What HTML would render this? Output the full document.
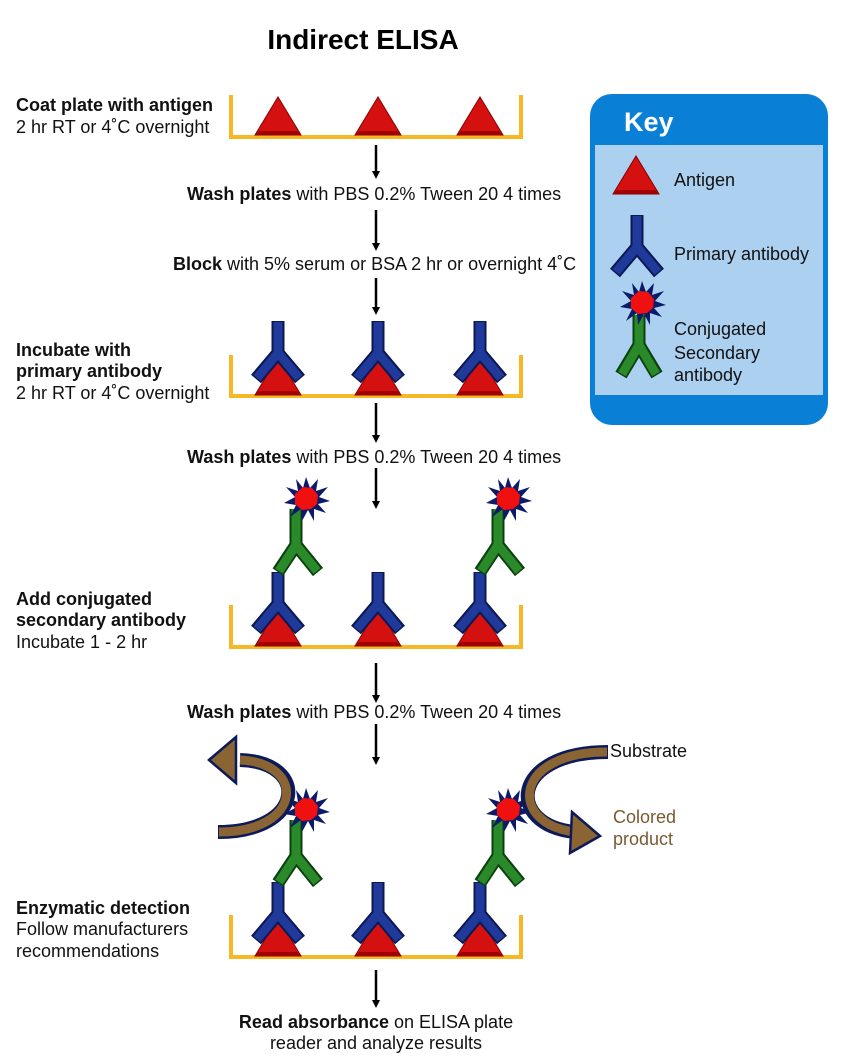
<!DOCTYPE html>
<html><head><meta charset="utf-8"><style>
body{margin:0;background:#fff;}
svg{display:block;font-family:"Liberation Sans",Arial,sans-serif;}
</style></head><body>
<svg width="850" height="1063" viewBox="0 0 850 1063" xmlns="http://www.w3.org/2000/svg">
<defs>
 <g id="ag"><polygon points="-23,0 0,-38 23,0" fill="#d41010" stroke="#8a0000" stroke-width="1"/><polygon points="-23,0 23,0 19,-4 -19,-4" fill="#a00000"/></g>
 <g id="pab">
  <g stroke="#0c1850" stroke-width="13" fill="none"><line x1="0" y1="0" x2="0" y2="34"/><line x1="0" y1="32" x2="-22" y2="58"/><line x1="0" y1="32" x2="22" y2="58"/></g>
  <g stroke="#1f3a9a" stroke-width="9" fill="none"><line x1="0" y1="1" x2="0" y2="34"/><line x1="0" y1="32" x2="-21" y2="57"/><line x1="0" y1="32" x2="21" y2="57"/></g>
 </g>
 <g id="star"><polygon points="0,-22 4,-11 12,-20 10,-8 22,-12 13,-2 24,2 12,5 20,14 8,10 8,22 2,11 -4,22 -5,10 -16,18 -10,6 -22,4 -11,-2 -20,-12 -8,-8 -10,-20 -3,-11" fill="#0c1a6a"/><polygon points="-3,-12 6,-11 12,-4 11,5 5,10 -4,11 -11,5 -11,-5" fill="#f01010"/></g>
 <g id="sab">
  <g stroke="#0c4010" stroke-width="13" fill="none"><line x1="0" y1="-36" x2="0" y2="2"/><line x1="0" y1="0" x2="-18" y2="27"/><line x1="0" y1="0" x2="22" y2="27"/></g>
  <g stroke="#2a8a2a" stroke-width="9" fill="none"><line x1="0" y1="-36" x2="0" y2="2"/><line x1="0" y1="0" x2="-17" y2="26"/><line x1="0" y1="0" x2="21" y2="26"/></g>
  <use href="#star" x="10" y="-46"/>
 </g>
 <marker id="ah" markerWidth="8" markerHeight="8" refX="5" refY="4" orient="auto" markerUnits="userSpaceOnUse"><path d="M0,0 L8,4 L0,8 Z" fill="#000"/></marker>
</defs>

<text x="363" y="49" font-size="28" font-weight="bold" text-anchor="middle">Indirect ELISA</text>

<g fill="none" stroke="#f6b824" stroke-width="4">
 <path d="M231,95 V137 H521 V95"/>
 <path d="M231,355 V396 H521 V355"/>
 <path d="M231,605 V647 H521 V605"/>
 <path d="M231,915 V957 H521 V915"/>
</g>
<use href="#ag" x="278" y="135"/><use href="#ag" x="378" y="135"/><use href="#ag" x="480" y="135"/>
<use href="#ag" x="278" y="395"/><use href="#ag" x="378" y="395"/><use href="#ag" x="480" y="395"/>
<use href="#pab" x="278" y="321"/><use href="#pab" x="378" y="321"/><use href="#pab" x="480" y="321"/>
<use href="#ag" x="278" y="646"/><use href="#ag" x="378" y="646"/><use href="#ag" x="480" y="646"/>
<use href="#pab" x="278" y="572"/><use href="#pab" x="378" y="572"/><use href="#pab" x="480" y="572"/>
<use href="#sab" x="296" y="545"/><use href="#sab" x="498" y="545"/>
<use href="#ag" x="278" y="956"/><use href="#ag" x="378" y="956"/><use href="#ag" x="480" y="956"/>
<use href="#pab" x="278" y="882"/><use href="#pab" x="378" y="882"/><use href="#pab" x="480" y="882"/>
<use href="#sab" x="296" y="856"/><use href="#sab" x="498" y="856"/>

<g stroke="#000" stroke-width="2.5" marker-end="url(#ah)">
 <line x1="376" y1="145" x2="376" y2="176"/>
 <line x1="376" y1="210" x2="376" y2="248"/>
 <line x1="376" y1="278" x2="376" y2="312"/>
 <line x1="376" y1="403" x2="376" y2="440"/>
 <line x1="376" y1="468" x2="376" y2="506"/>
 <line x1="376" y1="663" x2="376" y2="700"/>
 <line x1="376" y1="724" x2="376" y2="762"/>
 <line x1="376" y1="970" x2="376" y2="1005"/>
</g>

<g fill="none" stroke-linecap="butt">
 <path d="M218,832 C305,832 310,762 240,760" stroke="#0c1a5a" stroke-width="14"/>
 <path d="M219,832 C303,832 307,763 240,760" stroke="#8a6432" stroke-width="9"/>
 <path d="M608,752 C510,752 505,825 575,832" stroke="#0c1a5a" stroke-width="14"/>
 <path d="M607,752 C512,752 508,824 575,832" stroke="#8a6432" stroke-width="9"/>
</g>
<polygon points="209,760 236,737 236,783" fill="#8a6432" stroke="#0c1a5a" stroke-width="2.5"/>
<polygon points="600,836 572,812 570,853" fill="#8a6432" stroke="#0c1a5a" stroke-width="2.5"/>

<g font-size="18" fill="#111">
 <text x="16" y="111" font-weight="bold">Coat plate with antigen</text>
 <text x="16" y="133">2 hr RT or 4˚C overnight</text>
 <text x="16" y="356" font-weight="bold">Incubate with</text>
 <text x="16" y="377" font-weight="bold">primary antibody</text>
 <text x="16" y="399">2 hr RT or 4˚C overnight</text>
 <text x="16" y="605" font-weight="bold">Add conjugated</text>
 <text x="16" y="626" font-weight="bold">secondary antibody</text>
 <text x="16" y="648">Incubate 1 - 2 hr</text>
 <text x="16" y="914" font-weight="bold">Enzymatic detection</text>
 <text x="16" y="935">Follow manufacturers</text>
 <text x="16" y="957">recommendations</text>
 <text x="187" y="200"><tspan font-weight="bold">Wash plates</tspan> with PBS 0.2% Tween 20 4 times</text>
 <text x="173" y="270"><tspan font-weight="bold">Block</tspan> with 5% serum or BSA 2 hr or overnight 4˚C</text>
 <text x="187" y="463"><tspan font-weight="bold">Wash plates</tspan> with PBS 0.2% Tween 20 4 times</text>
 <text x="187" y="718"><tspan font-weight="bold">Wash plates</tspan> with PBS 0.2% Tween 20 4 times</text>
 <text x="376" y="1028" text-anchor="middle"><tspan font-weight="bold">Read absorbance</tspan> on ELISA plate</text>
 <text x="376" y="1049" text-anchor="middle">reader and analyze results</text>
 <text x="610" y="757">Substrate</text>
 <text x="613" y="823" fill="#7a5a30">Colored</text>
 <text x="613" y="845" fill="#7a5a30">product</text>
</g>

<rect x="590" y="94" width="238" height="331" rx="22" fill="#0a7fd6"/>
<rect x="595" y="145" width="228" height="250" fill="#acd0f0"/>
<text x="624" y="131" font-size="27" font-weight="bold" fill="#fff">Key</text>
<use href="#ag" x="636" y="194"/>
<use href="#pab" x="637" y="215"/>
<g transform="translate(639,345)">
 <g stroke="#0c4010" stroke-width="13" fill="none"><line x1="0" y1="-30" x2="0" y2="2"/><line x1="0" y1="0" x2="-18" y2="30"/><line x1="0" y1="0" x2="18" y2="30"/></g>
 <g stroke="#2a8a2a" stroke-width="9" fill="none"><line x1="0" y1="-30" x2="0" y2="2"/><line x1="0" y1="0" x2="-17" y2="29"/><line x1="0" y1="0" x2="17" y2="29"/></g>
 <use href="#star" x="3" y="-42"/>
</g>
<g font-size="18" fill="#111">
 <text x="674" y="186">Antigen</text>
 <text x="674" y="260">Primary antibody</text>
 <text x="674" y="335">Conjugated</text>
 <text x="674" y="359">Secondary</text>
 <text x="674" y="381">antibody</text>
</g>
</svg>
</body></html>
